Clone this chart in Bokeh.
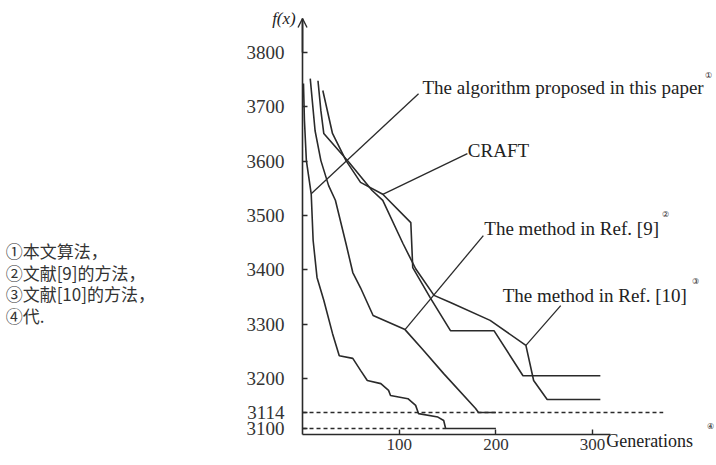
import numpy as np
from bokeh.plotting import figure
from bokeh.models import Range1d, FixedTicker, Label, Arrow, OpenHead
from bokeh.embed import file_html
from bokeh.resources import INLINE

# ---------------- data ----------------
# The algorithm proposed in this paper
gen_alg = [1, 2, 4, 9, 11, 15, 22, 31, 38, 52, 60, 67, 81, 89, 91, 109, 117, 120, 140, 146, 148, 200]
fx_alg = [3743, 3675, 3601, 3540, 3454, 3386, 3344, 3283, 3242, 3237, 3215, 3195, 3187, 3170, 3157,
          3149, 3132, 3113, 3110, 3107, 3100, 3100]
# The method in Ref. [9]
gen_ref9 = [8, 13, 19, 27, 34, 45, 52, 60, 73, 106, 125, 146, 179, 182, 200]
fx_ref9 = [3752, 3656, 3601, 3555, 3528, 3448, 3395, 3367, 3316, 3290, 3252, 3209, 3124, 3114, 3114]
# CRAFT
gen_craft = [21, 31, 45, 60, 83, 112, 114, 132, 153, 198, 228, 308]
fx_craft = [3730, 3651, 3601, 3561, 3539, 3487, 3404, 3349, 3288, 3288, 3205, 3205]
# The method in Ref. [10]
gen_ref10 = [16, 19, 22, 48, 72, 83, 104, 117, 136, 153, 194, 231, 239, 253, 308]
fx_ref10 = [3748, 3693, 3651, 3598, 3546, 3528, 3448, 3402, 3353, 3340, 3307, 3261, 3195, 3147, 3147]

# reference levels (dashed) and where they stop
ref_levels = [3114, 3100]
ref_level_end = [373, 148]

y_tick_values = [3100, 3114, 3200, 3300, 3400, 3500, 3600, 3700, 3800]
x_tick_values = [100, 200, 300]

legend_lines = ["①本文算法，", "②文献[9]的方法，", "③文献[10]的方法，", "④代."]

# ---------------- broken (piecewise linear) y scale of the original figure ----------------
SCALE_V = [3000.0, 3094.75, 3100.0, 3114.0, 3200.0, 3800.0, 3900.0]
SCALE_U = [-108.3, 0.0, 6.0, 22.0, 56.0, 382.0, 436.33]


def fy(v):
    return np.round(np.interp(np.asarray(v, dtype=float), SCALE_V, SCALE_U), 3)


INK = "#2a2a2a"
SERIF = "Liberation Serif"

p = figure(width=716, height=465, x_range=Range1d(-312.3, 428.1), y_range=Range1d(-31, 434),
           output_backend="svg", toolbar_location=None, min_border=0,
           min_border_left=0, min_border_right=0, min_border_top=0, min_border_bottom=0)
p.grid.visible = False
p.outline_line_color = None
p.background_fill_color = "white"
p.border_fill_color = "white"

# axes (drawn at the data origin inside the frame)
yt = [float(t) for t in fy(y_tick_values)]
p.yaxis.ticker = FixedTicker(ticks=yt)
p.yaxis.major_label_overrides = {t: str(v) for t, v in zip(yt, y_tick_values)}
p.xaxis.ticker = FixedTicker(ticks=x_tick_values)
for ax in (p.xaxis, p.yaxis):
    ax.fixed_location = 0
    ax.axis_line_color = INK
    ax.axis_line_width = 1.6
    ax.major_tick_line_color = INK
    ax.major_tick_line_width = 1.4
    ax.major_tick_in = 5
    ax.major_tick_out = 0
    ax.minor_tick_line_color = None
    ax.major_label_text_font = SERIF
    ax.major_label_text_color = "#333333"
p.yaxis.major_label_text_font_size = "19px"
p.yaxis.major_label_standoff = 18
p.yaxis.bounds = (0, 416)
p.xaxis.major_label_text_font_size = "17px"
p.xaxis.major_label_standoff = 4
p.xaxis.bounds = (0, 318)

# arrow head on the y axis
p.add_layout(Arrow(end=OpenHead(size=9, line_width=1.4, line_color=INK), line_color=INK, line_width=1.6,
                   x_start=0, y_start=float(fy(3800)), x_end=0, y_end=416))

# dashed reference levels
for lv, xe in zip(ref_levels, ref_level_end):
    p.line([0, xe], [float(fy(lv))] * 2, line_color=INK, line_width=1.4, line_dash="4 3")

# curves
for g, f in [(gen_alg, fx_alg), (gen_ref9, fx_ref9), (gen_craft, fx_craft), (gen_ref10, fx_ref10)]:
    p.line(g, fy(f), line_color=INK, line_width=1.6)

# leader lines from labels to curves
leaders = [((120, 3724), (gen_alg[3], fx_alg[3])),
           ((170.5, 3614), (gen_craft[4], fx_craft[4])),
           ((187, 3463), (gen_ref9[9], fx_ref9[9])),
           ((267, 3334), (gen_ref10[11], fx_ref10[11]))]
for (x0, v0), (x1, v1) in leaders:
    p.line([x0, x1], [float(fy(v0)), float(fy(v1))], line_color=INK, line_width=1.3)


def lab(x, v, text, size="19px", align="left", style="normal", color="#222222", font=SERIF):
    p.add_layout(Label(x=x, y=float(fy(v)), text=text, text_font=font, text_font_size=size,
                       text_align=align, text_baseline="middle", text_color=color,
                       text_font_style=style))


lab(124, 3736, "The algorithm proposed in this paper")
lab(171, 3620, "CRAFT")
lab(188, 3476, "The method in Ref. [9]")
lab(207, 3353, "The method in Ref. [10]")
lab(314, 3089.5, "Generations", size="18px")
lab(-7, 3862, "f(x)", size="17px", align="right", style="italic")

# tiny circled reference marks
lab(416.5, 3758, "①", size="8px")
lab(372, 3502, "②", size="8px")
lab(403, 3378, "③", size="8px")
lab(418.5, 3101.7, "④", size="8px")

# Chinese notes on the left
for txt, v in zip(legend_lines, [3436, 3395, 3357, 3316]):
    lab(-307, v, txt, size="17px", font="Noto Sans CJK SC", color="#333333")

open("out.html", "w").write(file_html(p, INLINE))
